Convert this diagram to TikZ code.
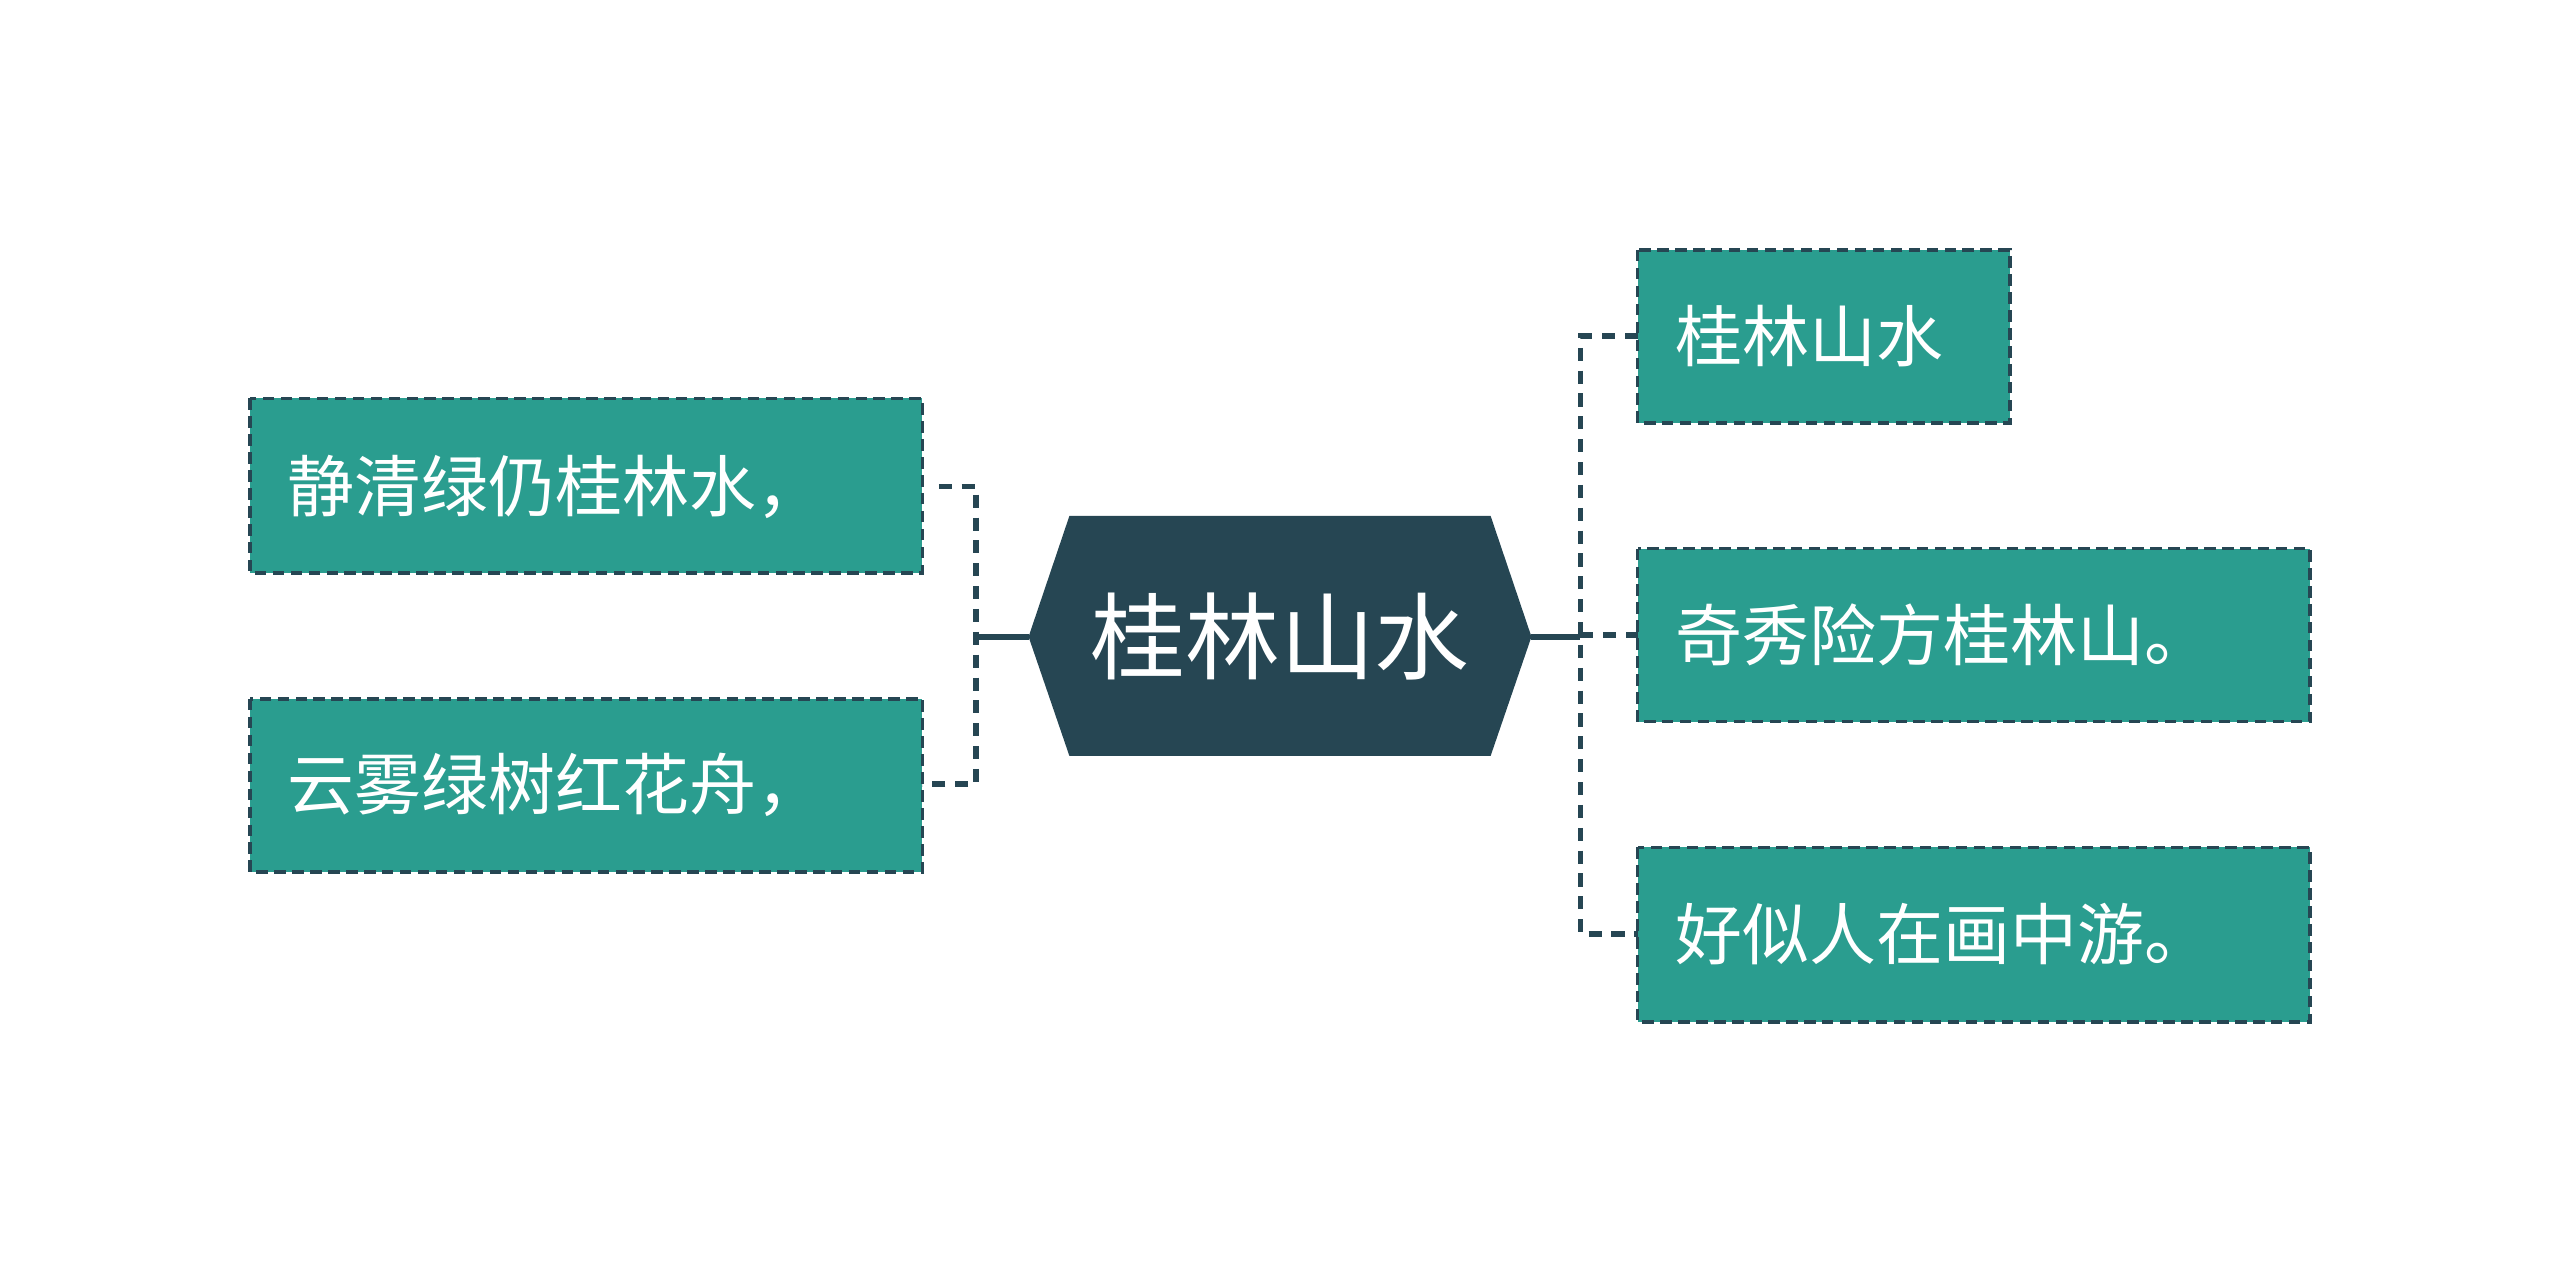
\documentclass[tikz,border=0pt]{standalone}
\usepackage{fontspec}
\setmainfont{Noto Sans CJK SC}
\begin{document}
\begin{tikzpicture}[x=1pt,y=-1pt,
 leaf/.style={fill=teal1,draw=dark1,line width=2.2pt,dash pattern=on 7pt off 4pt},
 conn/.style={draw=dark1,line width=3.5pt,dash pattern=on 8pt off 6pt},
 lbl/.style={text=white,font=\fontsize{41}{46}\selectfont,anchor=west,inner sep=0}]
\definecolor{teal1}{HTML}{2A9D8F}
\definecolor{dark1}{HTML}{264653}
\useasboundingbox (0,0) rectangle (1568,779);
\fill[dark1] (630,390)--(655,316)--(913,316)--(938,390)--(913,463)--(655,463)--cycle;
\node[text=white,font=\fontsize{58}{64}\selectfont] (c) at (784,390) {桂林山水};
\coordinate (cl) at (630,390); \coordinate (cr) at (938,390);
\draw[leaf] (153,244) rectangle (565,351); \node[lbl] (l1) at (176,298) {静清绿仍桂林水，};
\draw[leaf] (153,428) rectangle (565,534); \node[lbl] (l2) at (176,481) {云雾绿树红花舟，};
\draw[leaf] (1003,153) rectangle (1231,259); \node[lbl] (r1) at (1026,206) {桂林山水};
\draw[leaf] (1003,336) rectangle (1415,442); \node[lbl] (r2) at (1026,389) {奇秀险方桂林山。};
\draw[leaf] (1003,519) rectangle (1415,626); \node[lbl] (r3) at (1026,572) {好似人在画中游。};
\draw[dark1,line width=3.5pt] (cl) -- (598,390) (cr) -- (968,390);
\draw[conn] (575,298) -- (598,298) -- (598,480) -- (565,480);
\draw[conn] (1003,206) -- (968,206) -- (968,572) -- (1003,572);
\draw[conn] (968,389) -- (1003,389);
\end{tikzpicture}
\end{document}
